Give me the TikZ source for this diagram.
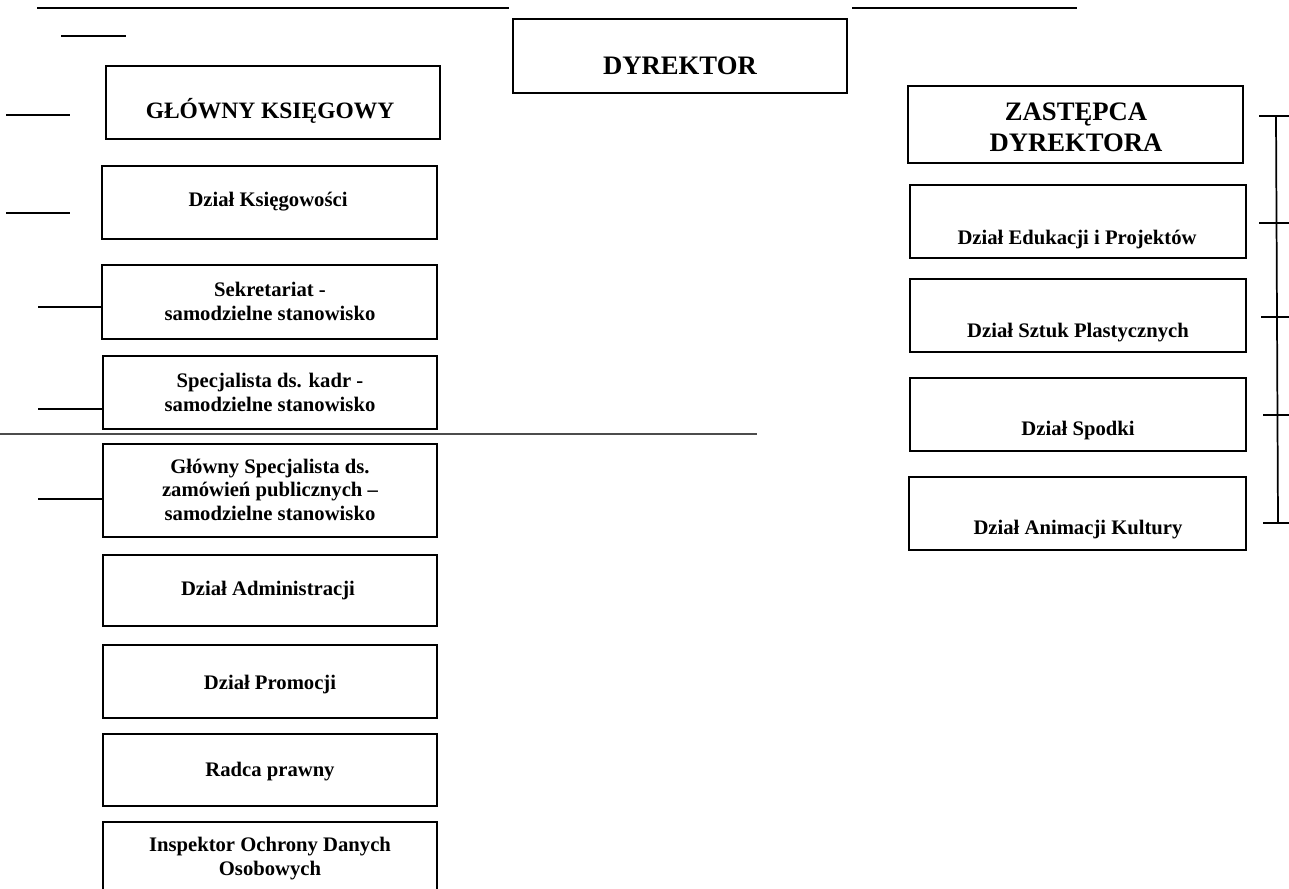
\documentclass[tikz,border=0pt]{standalone}
\usepackage{fontspec}
\setmainfont{Liberation Serif}[BoldFont={Liberation Serif Bold}]
\newfontfamily\lsb{Liberation Serif Bold}
\begin{document}
\begin{tikzpicture}[x=0.75pt,y=-0.75pt,
  box/.style={draw=black,line width=1.5pt,fill=none,inner sep=0pt},
  ln/.style={draw=black,line width=1.1pt},
  big/.style={font=\lsb\fontsize{20}{23.25}\selectfont,align=center,anchor=base,inner sep=0pt},
  mid/.style={font=\lsb\fontsize{17.6}{21}\selectfont,align=center,anchor=base,inner sep=0pt},
  sml/.style={font=\lsb\fontsize{15.5}{17.5}\selectfont,align=center,anchor=base,inner sep=0pt}]
\useasboundingbox (0,0) rectangle (1289,889);
\fill[white] (0,0) rectangle (1289,889);
% boxes
\newcommand{\bx}[5]{\node[box,minimum width={(#4-#2)*0.75pt},minimum height={(#5-#3)*0.75pt}] (#1) at ({(#2+#4)/2},{(#3+#5)/2}) {};}
\bx{dyr}{513}{19}{847}{93}
\bx{gk}{106}{66}{440}{139}
\bx{dk}{102}{166}{437}{239}
\bx{sek}{102}{265}{437}{339}
\bx{kadr}{103}{356}{437}{429}
\bx{zp}{103}{444}{437}{537}
\bx{adm}{103}{555}{437}{626}
\bx{prom}{103}{645}{437}{718}
\bx{radca}{103}{734}{437}{806}
\bx{iod}{103}{822}{437}{905}
\bx{zast}{908}{86}{1243}{163}
\bx{edu}{910}{185}{1246}{258}
\bx{sztuk}{910}{279}{1246}{352}
\bx{spodki}{910}{378}{1246}{451}
\bx{anim}{909}{477}{1246}{550}
% texts (base anchor = baseline of last line)
\node[big] (tdyr) at (680,74) {DYREKTOR};
\node[mid] (tgk) at (270,118) {GŁÓWNY KSIĘGOWY};
\node[big] (tzast) at (1076,151) {ZASTĘPCA\\DYREKTORA};
\node[sml] (tdk) at (268,206) {Dział Księgowości};
\node[sml] (tsek) at (270,320) {Sekretariat -\\samodzielne stanowisko};
\node[sml] (tkadr) at (270,411) {Specjalista ds. kadr -\\samodzielne stanowisko};
\node[sml] (tzp) at (270,520) {Główny Specjalista ds.\\zamówień publicznych –\\samodzielne stanowisko};
\node[sml] (tadm) at (268,595) {Dział Administracji};
\node[sml] (tprom) at (270,689) {Dział Promocji};
\node[sml] (tradca) at (270,776) {Radca prawny};
\node[sml] (tiod) at (270,875) {Inspektor Ochrony Danych\\Osobowych};
\node[sml] (tedu) at (1077,244) {Dział Edukacji i Projektów};
\node[sml] (tsztuk) at (1078,337) {Dział Sztuk Plastycznych};
\node[sml] (tspodki) at (1078,435) {Dział Spodki};
\node[sml] (tanim) at (1078,534) {Dział Animacji Kultury};
% free lines
\coordinate (t1a) at (37,8); \coordinate (t1b) at (509,8);
\coordinate (t2a) at (852,8); \coordinate (t2b) at (1077,8);
\coordinate (sa) at (61,36); \coordinate (sb) at (126,36);
\coordinate (a1) at (6,115); \coordinate (b1) at (70,115);
\coordinate (a2) at (6,213); \coordinate (b2) at (70,213);
\coordinate (a3) at (38,307);
\coordinate (a4) at (38,409);
\coordinate (a5) at (38,499);
\coordinate (h1) at (0,434); \coordinate (h2) at (757,434);
\draw[ln] (t1a) -- (t1b);
\draw[ln] (t2a) -- (t2b);
\draw[ln,line width=1.4pt] (sa) -- (sb);
\draw[ln] (a1) -- (b1);
\draw[ln] (a2) -- (b2);
\draw[ln] (a3) -- (a3 -| sek.west);
\draw[ln] (a4) -- (a4 -| kadr.west);
\draw[ln] (a5) -- (a5 -| zp.west);
\draw[ln,draw=black!70] (h1) -- (h2);
% right bracket
\coordinate (v1) at (1276,116); \coordinate (v2) at (1278,523);
\coordinate (k1) at (1259,116); \coordinate (k2) at (1259,223);
\coordinate (k3) at (1261,317); \coordinate (k4) at (1263,415);
\coordinate (k5) at (1263,523);
\draw[ln,line width=1.3pt] (v1) -- (v2);
\foreach \k in {k1,k2,k3,k4,k5} \draw[ln] (\k) -- (\k -| 1289,0);
\end{tikzpicture}
\end{document}
